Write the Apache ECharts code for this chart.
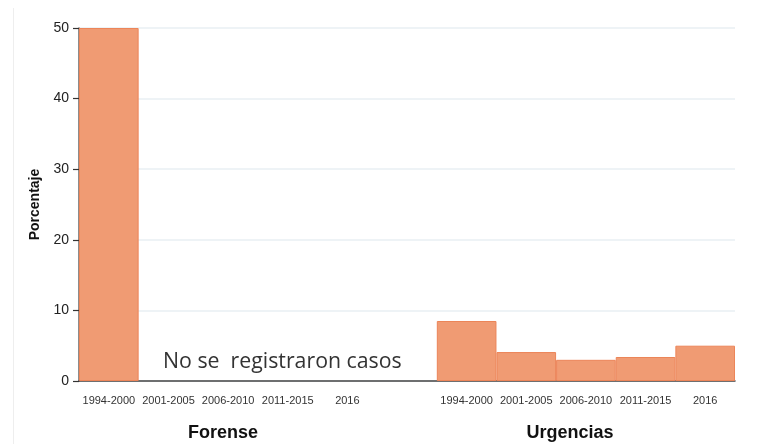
<!DOCTYPE html>
<html>
<head>
<meta charset="utf-8">
<script src="https://cdn.jsdelivr.net/npm/echarts@6/dist/echarts.min.js"></script>
<style>
  html, body { margin: 0; padding: 0; background: #fff; }
  #chart { width: 762px; height: 444px; }
</style>
</head>
<body>
<div id="chart"></div>
<script>
// periodos (la categoria vacia separa los dos grupos)
var periodos = ['1994-2000', '2001-2005', '2006-2010', '2011-2015', '2016'];
var categorias = periodos.concat(['']).concat(periodos);
// porcentajes
var forense = [50, null, null, null, null];
var urgencias = [8.5, 4.1, 3.0, 3.4, 5.0];
var valores = forense.concat([null]).concat(urgencias);
var yTicks = [0, 10, 20, 30, 40, 50];

var chart = echarts.init(document.getElementById('chart'));
var option = {
    animation: false,
    grid: {left: 79, right: 27, top: 28, bottom: 63},
    xAxis: {
        type: 'category',
        data: categorias,
        boundaryGap: true,
        axisLine: {lineStyle: {color: '#444', width: 1.5}},
        axisTick: {
            alignWithLabel: true,
            length: 6,
            lineStyle: {color: '#444'},
            interval: function (idx, val) { return val !== ''; }
        },
        axisLabel: {
            interval: 0,
            color: '#333',
            fontSize: 11,
            fontFamily: 'Liberation Sans, Arial, sans-serif',
            margin: 14
        },
        splitLine: {show: false}
    },
    yAxis: {
        type: 'value',
        min: yTicks[0],
        max: yTicks[yTicks.length - 1],
        interval: 10,
        name: 'Porcentaje',
        nameLocation: 'middle',
        nameGap: 31,
        nameTextStyle: {
            color: '#111',
            fontSize: 14,
            fontWeight: 'bold',
            fontFamily: 'Liberation Sans, Arial, sans-serif'
        },
        axisLine: {show: true, lineStyle: {color: '#666', width: 1.5}},
        axisTick: {show: true, inside: false, length: 6, lineStyle: {color: '#333', width: 1.2}},
        axisLabel: {
            color: '#222',
            fontSize: 14,
            fontFamily: 'Liberation Sans, Arial, sans-serif',
            margin: 10
        },
        splitLine: {lineStyle: {color: '#e8eff3', width: 1.5}}
    },
    series: [{
        type: 'bar',
        data: valores,
        barWidth: '100%',
        itemStyle: {
            color: '#f09b73',
            borderColor: '#ec8559',
            borderWidth: 1
        }
    }],
    graphic: [
        {
            type: 'line',
            shape: {x1: 13.5, y1: 8, x2: 13.5, y2: 444},
            style: {stroke: '#eeeeee', lineWidth: 1}
        },
        {
            type: 'text',
            left: 163,
            top: 351,
            style: {
                text: 'No se  registraron casos',
                fill: '#333',
                font: '21.3px "Open Sans", sans-serif'
            }
        },
        {
            type: 'text',
            x: 223,
            y: 433,
            style: {
                text: 'Forense',
                fill: '#111',
                font: 'bold 18px "Liberation Sans", Arial, sans-serif',
                align: 'center',
                verticalAlign: 'middle'
            }
        },
        {
            type: 'text',
            x: 570,
            y: 433,
            style: {
                text: 'Urgencias',
                fill: '#111',
                font: 'bold 18px "Liberation Sans", Arial, sans-serif',
                align: 'center',
                verticalAlign: 'middle'
            }
        }
    ]
};
chart.setOption(option);
</script>
</body>
</html>
